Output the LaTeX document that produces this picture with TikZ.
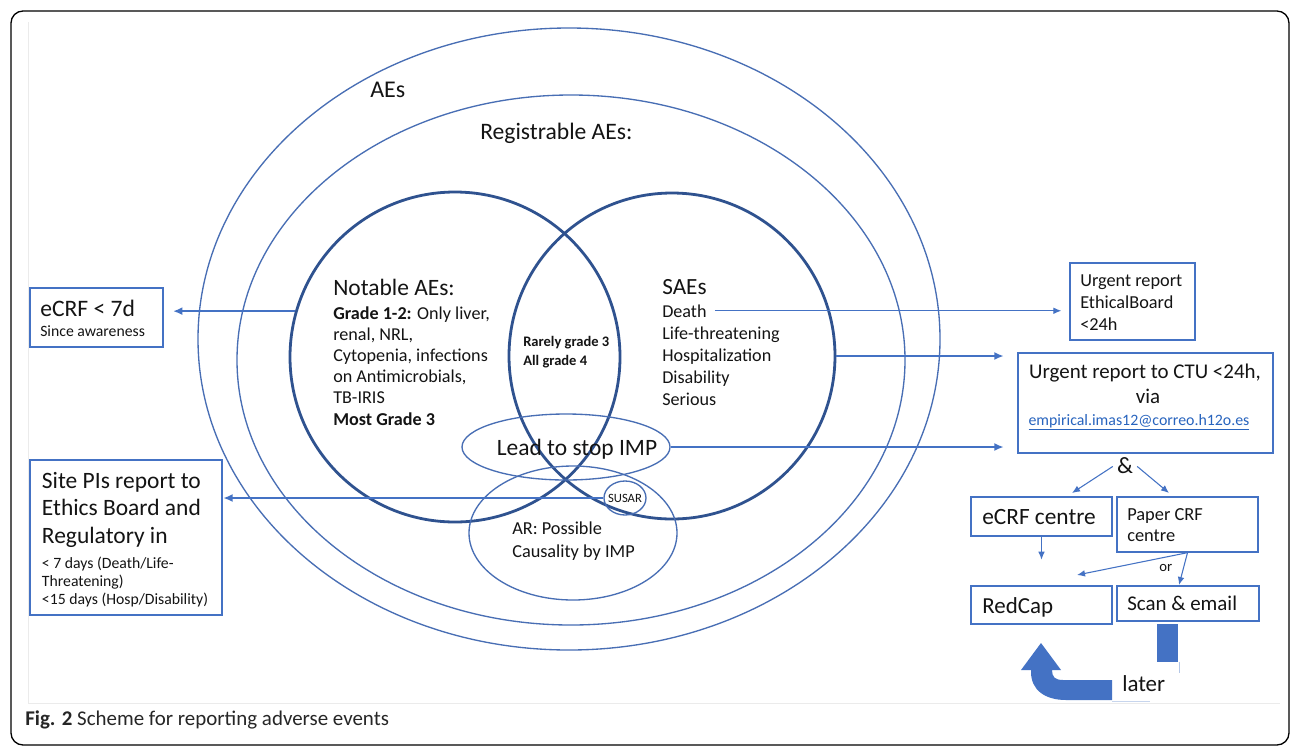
\documentclass[tikz,border=0pt]{standalone}
\usepackage{fontspec}
\setmainfont{Carlito}
\usetikzlibrary{arrows.meta,shapes.geometric,fit}
\definecolor{cdark}{RGB}{47,82,143}
\definecolor{cmid}{RGB}{72,110,180}
\definecolor{cbox}{RGB}{68,114,196}
\definecolor{ctext}{RGB}{20,20,20}
\definecolor{clink}{RGB}{40,100,190}
\newcommand{\myfs}[1]{\fontsize{#1}{#1}\selectfont}
\begin{document}
\begin{tikzpicture}[x=0.75pt,y=-0.75pt,
  thickc/.style={draw=cdark,line width=2.1pt,inner sep=0pt},
  thinc/.style={draw=cmid,line width=1pt,inner sep=0pt},
  boxthin/.style={draw=cbox,line width=1pt,inner sep=0pt},
  boxthick/.style={draw=cbox,line width=1.9pt,inner sep=0pt},
  arr/.style={draw=cbox,line width=1.5pt,-{Latex[length=7pt,width=6pt]}},
  tarr/.style={draw=cbox,line width=0.8pt,-{Latex[length=6pt,width=5pt]}},
  txt/.style={text=ctext,inner sep=0pt,anchor=base west},
  ctxt/.style={text=ctext,inner sep=0pt,anchor=base},
]
\useasboundingbox (0,0) rectangle (1292,747);
\fill[white] (0,0) rectangle (1292,747);
\draw[black!8, line width=0.6pt] (28,22) -- (28,703) -- (1280,703);
\draw[black, line width=1pt, rounded corners=9pt] (11,11) rectangle (1289,745);

% ellipses and circles
\node[ellipse, thinc, minimum width=556.5pt, minimum height=466.5pt] (aes) at (569,339) {};
\node[ellipse, thinc, minimum width=501pt, minimum height=397.5pt] (reg) at (571,360) {};
\node[circle, thickc, minimum size=247.5pt] (notable) at (455,357) {};
\node[circle, thickc, minimum size=244.5pt] (sae) at (672,356) {};
\node[ellipse, thinc, minimum width=156pt, minimum height=49.5pt] (lead) at (566,447) {};
\node[ellipse, thinc, minimum width=156pt, minimum height=100.5pt] (ar) at (573,533) {};
\node[ellipse, thinc, minimum width=31.5pt, minimum height=25.5pt] (susar) at (625,498) {};

% texts in the diagram
\node[txt, font=\myfs{18}] (taes) at (370,97.7) {AEs};
\node[txt, font=\myfs{17.7}] (treg) at (480,139) {Registrable AEs:};
\node[txt, font=\myfs{17.6}] (tnot) at (333,295) {Notable AEs:};
\foreach \t [count=\i from 0] in {{\textbf{Grade 1-2:} Only liver,},{renal, NRL,},{Cytopenia, infections},{on Antimicrobials,},{TB-IRIS},{\textbf{Most Grade 3}}}
  \node[txt, font=\myfs{13.6}] (nb\i) at (333,{319+21.2*\i}) {\t};
\node[txt, font=\bfseries\myfs{10.9}] (rare) at (523,346) {Rarely grade 3};
\node[txt, font=\bfseries\myfs{10.9}] (allg) at (523,365) {All grade 4};
\node[txt, font=\myfs{17.4}] (tsae) at (662,294) {SAEs};
\foreach \t [count=\i from 0] in {Death,Life-threatening,Hospitalization,Disability,Serious}
  \node[txt, font=\myfs{13.6}] (sb\i) at (662,{317+22.2*\i}) {\t};
\node[ctxt, font=\myfs{17.6}] (tlead) at (577,455.7) {Lead to stop IMP};
\node[txt, font=\myfs{13.7}] (ar1) at (512,534) {AR: Possible};
\node[txt, font=\myfs{13.7}] (ar2) at (512,557) {Causality by IMP};
\node[text=ctext, inner sep=0pt, font=\myfs{9.5}] (tsusar) at (625,498) {SUSAR};

% left boxes
\node[boxthick, line width=1.6pt, fit={(30,288)(163,347)}] (ecrf) {};
\node[txt, font=\myfs{17.7}] (ecrf1) at (40,316.7) {eCRF < 7d};
\node[txt, font=\myfs{11.8}] (ecrf2) at (40,336.7) {Since awareness};
\node[boxthick, fit={(30,460)(222,615)}] (sitepi) {};
\foreach \t [count=\i from 0] in {Site PIs report to,Ethics Board and,Regulatory in}
  \node[txt, font=\myfs{17.6}] (sp\i) at (41.7,{488+27.5*\i}) {\t};
\foreach \t [count=\i from 0] in {< 7 days (Death/Life-,Threatening),<15 days (Hosp/Disability)}
  \node[txt, font=\myfs{11.8}] (ss\i) at (41.7,{568+18*\i}) {\t};

% right boxes
\node[boxthin, fit={(1070,263)(1195,340)}] (ethical) {};
\foreach \t [count=\i from 0] in {Urgent report,EthicalBoard,<24h}
  \node[txt, font=\myfs{13.7}] (eb\i) at (1080,{286+22*\i}) {\t};
\node[boxthick, fit={(1018,353)(1273,453)}] (ctu) {};
\node[ctxt, font=\myfs{15.7}] (ctu1) at (1145,378) {Urgent report to CTU <24h,};
\node[ctxt, font=\myfs{15.7}] (ctu2) at (1148,403) {via};
\node[ctxt, font=\myfs{11.9}, text=clink] (ctu3) at (1139,425) {\underline{empirical.imas12@correo.h12o.es}};
\node[ctxt, font=\myfs{17.5}] (amp) at (1125,473) {\&};
\node[boxthin, fit={(971,497)(1112,536)}] (ecrfc) {};
\node[txt, font=\myfs{17.5}] (ecrfct) at (982,524) {eCRF centre};
\node[boxthin, fit={(1117,497)(1258,552)}] (paper) {};
\node[txt, font=\myfs{13.8}] (paper1) at (1127,520) {Paper CRF};
\node[txt, font=\myfs{13.8}] (paper2) at (1127,541) {centre};
\node[boxthin, fit={(971,586)(1112,624)}] (redcap) {};
\node[txt, font=\myfs{17.2}] (redcapt) at (982,613) {RedCap};
\node[boxthin, fit={(1117,586)(1259,621)}] (scan) {};
\node[txt, font=\myfs{15.7}] (scant) at (1127,610) {Scan \& email};
\node[txt, font=\myfs{11}] (or) at (1159,571) {or};
\node[txt, font=\myfs{17.2}] (later) at (1122,691) {later};

% connectors
\draw[arr, shorten >=6.75pt] (notable.164) -- (ecrf.east |- notable.164);
\draw[tarr, shorten >=6pt] ([xshift=6pt]sb0.east) -- (ethical.west |- sb0.east);
\draw[arr, shorten >=9.75pt] (sae.east) -- (ctu.west |- sae.east);
\draw[arr, shorten >=9.75pt] (lead.east) -- (ctu.west |- lead.east);
\draw[arr] (susar.west) -- (sitepi.east |- susar.west);

\coordinate (t1) at (1072,493);
\coordinate (t2) at (1169,493);
\coordinate (t3) at (1077,575);
\coordinate (t4) at (1179,585);
\draw[tarr] ([xshift=-3pt,yshift=-1pt]amp.west) -- (t1);
\draw[tarr] ([xshift=3pt,yshift=-1pt]amp.east) -- (t2);
\draw[tarr] (ecrfc.south) -- ++(0,23);
\draw[tarr] (paper.south) -- (t3);
\draw[tarr] (paper.south) -- (t4);

% later arrow
\fill[cbox] (1157,624) rectangle (1178,662);
\draw[cbox!40, line width=0.5pt] (1179,662) -- (1179,673);
\draw[cbox!30, line width=0.5pt] (1112,701) -- (1150,701);
\fill[cbox] (1041,643) -- (1061,670) -- (1052,670) .. controls (1052,677) and (1055,680) .. (1063,680)
  -- (1112,680) -- (1112,700) -- (1066,700) .. controls (1045,700) and (1031,690) .. (1031,672)
  -- (1031,670) -- (1021,670) -- cycle;

% caption
\node[txt, font=\myfs{15.7}, text=black!85] (cap) at (25,725) {\textbf{Fig. 2} Scheme for reporting adverse events};
\end{tikzpicture}
\end{document}
